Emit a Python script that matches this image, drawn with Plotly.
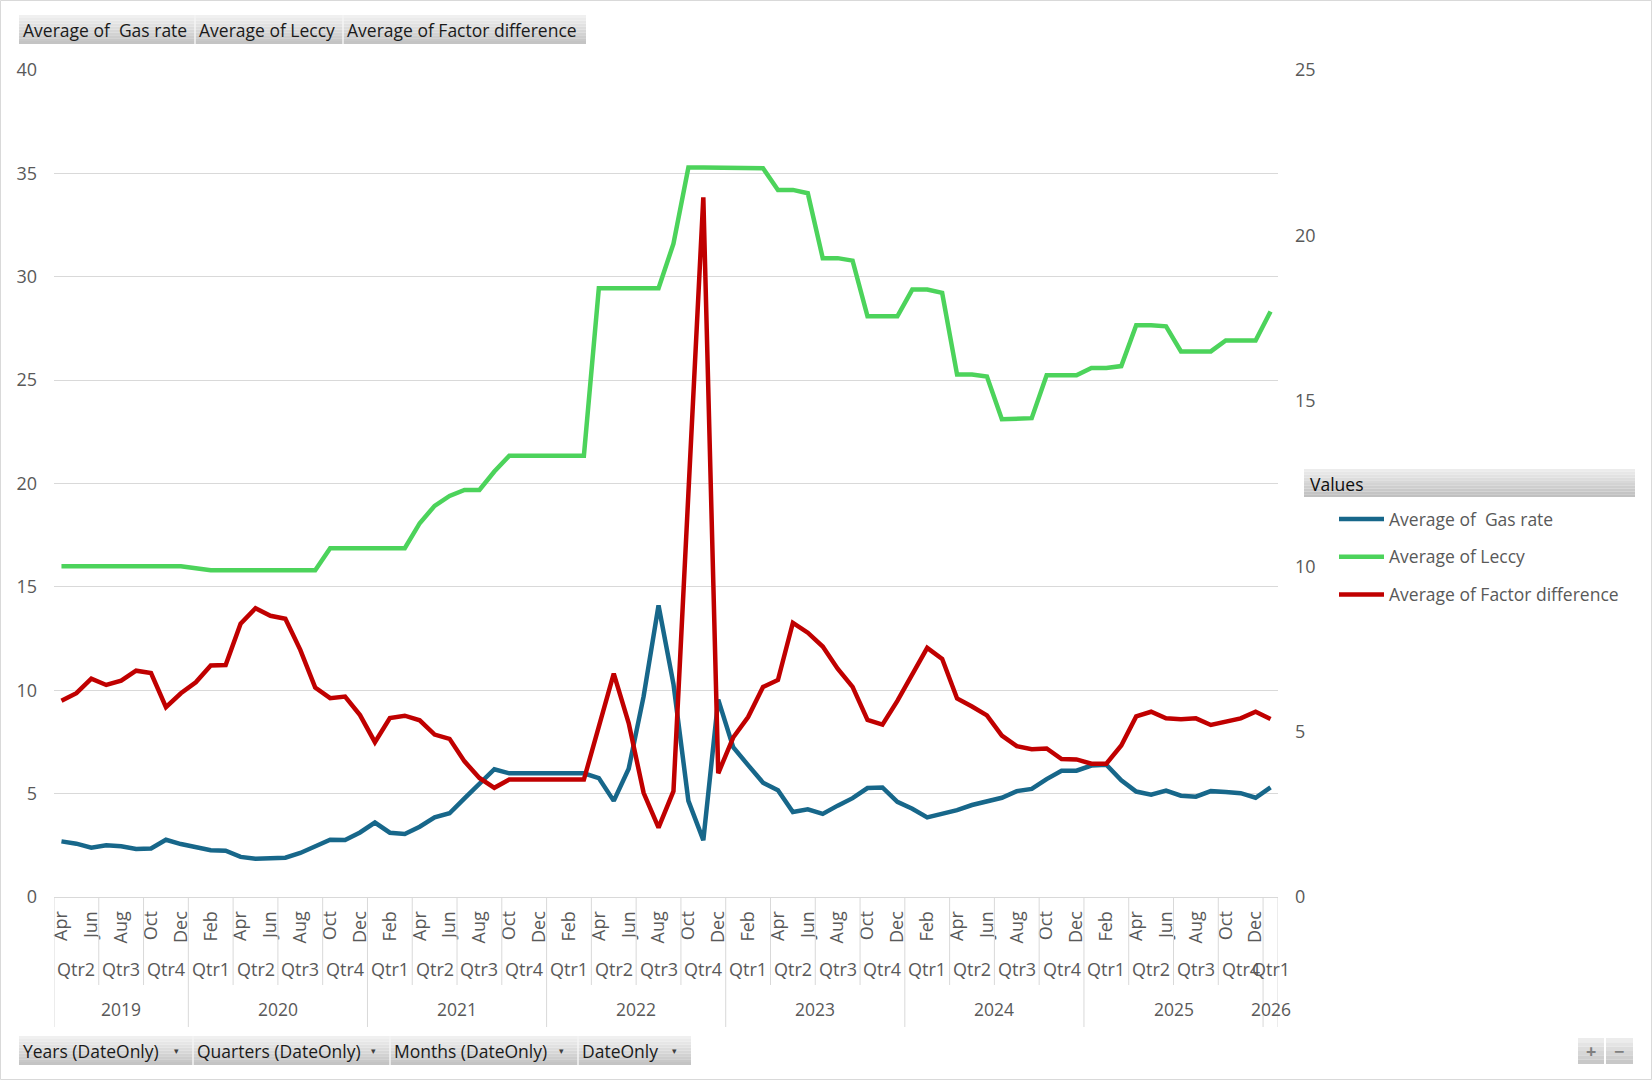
import plotly.graph_objects as go
import pandas as pd

# ---------------- data ----------------
dates = pd.date_range("2019-04-01", "2026-01-01", freq="MS")
month_labels = [d.strftime("%b") for d in dates]
quarter_labels = ["Qtr%d" % ((d.month - 1) // 3 + 1) for d in dates]
year_labels = [str(d.year) for d in dates]

gas = [2.69, 2.58, 2.38, 2.50, 2.45, 2.32, 2.35, 2.77, 2.56,
       2.42, 2.26, 2.24, 1.94, 1.85, 1.89, 1.90, 2.13, 2.48, 2.77, 2.76, 3.12,
       3.60, 3.11, 3.05, 3.40, 3.85, 4.05, 4.77, 5.50, 6.18, 5.98, 5.98, 5.98,
       5.98, 5.98, 5.98, 5.75, 4.65, 6.20, 9.70, 14.10, 10.30, 4.65, 2.75, 9.55,
       7.25, 6.38, 5.53, 5.16, 4.11, 4.24, 4.02, 4.42, 4.78, 5.27, 5.30, 4.60,
       4.27, 3.85, 4.00, 4.20, 4.45, 4.65, 4.80, 5.12, 5.23, 5.70, 6.11, 6.11,
       6.36, 6.40, 5.65, 5.10, 4.95, 5.15, 4.90, 4.85, 5.12, 5.08, 5.02, 4.80,
       5.30]

leccy = [16.0, 16.0, 16.0, 16.0, 16.0, 16.0, 16.0, 16.0, 16.0,
         15.9, 15.8, 15.8, 15.8, 15.8, 15.8, 15.8, 15.8, 15.8, 16.87, 16.87, 16.87,
         16.87, 16.87, 16.87, 18.08, 18.92, 19.40, 19.69, 19.69, 20.58, 21.34, 21.34, 21.34,
         21.34, 21.34, 21.34, 29.44, 29.44, 29.44, 29.44, 29.44, 31.60, 35.28, 35.28, 35.28,
         35.28, 35.28, 35.25, 34.20, 34.20, 34.04, 30.90, 30.90, 30.78, 28.09, 28.09, 28.09,
         29.38, 29.38, 29.22, 25.27, 25.27, 25.17, 23.11, 23.11, 23.16, 25.23, 25.23, 25.23,
         25.59, 25.59, 25.68, 27.65, 27.65, 27.60, 26.39, 26.39, 26.39, 26.92, 26.92, 26.92,
         28.32]

factor = [5.93, 6.16, 6.60, 6.41, 6.54, 6.84, 6.77, 5.74, 6.16,
          6.49, 7.00, 7.01, 8.26, 8.73, 8.50, 8.41, 7.47, 6.33, 6.01, 6.06, 5.50,
          4.68, 5.41, 5.48, 5.34, 4.91, 4.78, 4.10, 3.60, 3.30, 3.55, 3.55, 3.55,
          3.55, 3.55, 3.55, 5.15, 6.75, 5.26, 3.15, 2.10, 3.20, 12.20, 21.15, 3.74,
          4.82, 5.44, 6.35, 6.56, 8.29, 7.99, 7.57, 6.90, 6.35, 5.35, 5.21, 5.93,
          6.74, 7.53, 7.20, 6.00, 5.76, 5.49, 4.88, 4.56, 4.47, 4.49, 4.17, 4.16,
          4.03, 4.03, 4.58, 5.46, 5.60, 5.40, 5.37, 5.40, 5.20, 5.31, 5.40, 5.60,
          5.38]

series_names = ["Average of\u00a0 Gas rate", "Average of Leccy", "Average of Factor difference"]
series_colors = ["#17678A", "#4CD35B", "#C00000"]
left_ticks = [0, 5, 10, 15, 20, 25, 30, 35, 40]
right_ticks = [0, 5, 10, 15, 20, 25]
top_buttons = ["Average of\u00a0 Gas rate", "Average of Leccy", "Average of Factor difference"]
bottom_buttons = ["Years (DateOnly)", "Quarters (DateOnly)", "Months (DateOnly)", "DateOnly"]

# ---------------- layout geometry ----------------
W, H = 1652, 1080
L, R, T, B = 54, 374, 70, 183
PW = W - L - R
PH = H - T - B
FONT = "Open Sans"
GRID = "#D9D9D9"
TXT = "#595959"


def px2x(px):
    return (px - L) / PW


def py2y(py):
    return (H - B - py) / PH


x = list(range(len(dates)))

fig = go.Figure()
fig.add_trace(go.Scatter(x=x, y=gas, name=series_names[0], mode="lines",
                         line=dict(color=series_colors[0], width=4.5), legendgroup="a"))
fig.add_trace(go.Scatter(x=x, y=leccy, name=series_names[1], mode="lines",
                         line=dict(color=series_colors[1], width=4.5), legendgroup="b"))
fig.add_trace(go.Scatter(x=x, y=factor, name=series_names[2], mode="lines", yaxis="y2",
                         line=dict(color=series_colors[2], width=4.5), legendgroup="c"))

tickvals = [i for i, d in enumerate(dates) if d.month % 2 == 0]
ticktext = [month_labels[i] for i in tickvals]

shapes = []
annotations = []


def grad_rect(x0, y0, x1, y1, top=(240, 240, 240), bot=(196, 196, 196), n=10):
    for k in range(n):
        t = k / (n - 1)
        c = tuple(int(top[j] + (bot[j] - top[j]) * t) for j in range(3))
        ya = y0 + (y1 - y0) * k / n
        yb = y0 + (y1 - y0) * (k + 1) / n
        shapes.append(dict(type="rect", xref="paper", yref="paper",
                           x0=px2x(x0), x1=px2x(x1), y0=py2y(ya), y1=py2y(yb),
                           fillcolor="rgb(%d,%d,%d)" % c, line=dict(width=0), layer="above"))


# outer chart border
shapes.append(dict(type="rect", xref="paper", yref="paper",
                   x0=px2x(0.5), x1=px2x(W - 0.5), y0=py2y(0.5), y1=py2y(H - 0.5),
                   line=dict(color=GRID, width=1)))

# multi-level axis separators
n = len(dates)
q_bounds = [-0.5] + [k - 0.5 for k in range(1, n) if quarter_labels[k] != quarter_labels[k - 1]] + [n - 0.5]
y_bounds = [-0.5] + [k - 0.5 for k in range(1, n) if year_labels[k] != year_labels[k - 1]] + [n - 0.5]
for b in q_bounds:
    if b not in y_bounds:
        shapes.append(dict(type="line", xref="x", yref="paper", x0=b, x1=b,
                           y0=py2y(H - B), y1=py2y(985), line=dict(color=GRID, width=1)))
for b in y_bounds:
    shapes.append(dict(type="line", xref="x", yref="paper", x0=b, x1=b,
                       y0=py2y(H - B), y1=py2y(1027), line=dict(color=GRID, width=1)))

# quarter & year labels
start = 0
for k in range(1, n + 1):
    if k == n or quarter_labels[k] != quarter_labels[k - 1]:
        annotations.append(dict(x=(start + k - 1) / 2, y=py2y(969), xref="x", yref="paper",
                                xanchor="center", yanchor="middle",
                                text=quarter_labels[start], showarrow=False,
                                font=dict(family=FONT, size=18, color=TXT)))
        start = k
start = 0
for k in range(1, n + 1):
    if k == n or year_labels[k] != year_labels[k - 1]:
        annotations.append(dict(x=(start + k - 1) / 2, y=py2y(1009), xref="x", yref="paper",
                                xanchor="center", yanchor="middle",
                                text=year_labels[start], showarrow=False,
                                font=dict(family=FONT, size=17.5, color=TXT)))
        start = k

# top field buttons
grad_rect(19, 15, 586, 44)
top_edges = [19, 195, 343, 586]
for i, lab in enumerate(top_buttons):
    if i > 0:
        shapes.append(dict(type="line", xref="paper", yref="paper",
                           x0=px2x(top_edges[i]), x1=px2x(top_edges[i]), y0=py2y(15), y1=py2y(44),
                           line=dict(color="#F4F4F4", width=1.5), layer="above"))
    annotations.append(dict(x=px2x(top_edges[i] + 2), y=py2y(30), xref="paper", yref="paper",
                            xanchor="left", yanchor="middle", text=lab, showarrow=False,
                            font=dict(family=FONT, size=17.5, color="#1A1A1A")))

# bottom field buttons
grad_rect(19, 1036, 691, 1065)
bot_edges = [19, 193, 390, 578, 691]
for i, lab in enumerate(bottom_buttons):
    if i > 0:
        shapes.append(dict(type="line", xref="paper", yref="paper",
                           x0=px2x(bot_edges[i]), x1=px2x(bot_edges[i]), y0=py2y(1036), y1=py2y(1065),
                           line=dict(color="#F4F4F4", width=1.5), layer="above"))
    annotations.append(dict(x=px2x(bot_edges[i] + 2), y=py2y(1051), xref="paper", yref="paper",
                            xanchor="left", yanchor="middle", text=lab, showarrow=False,
                            font=dict(family=FONT, size=17.5, color="#1A1A1A")))
    annotations.append(dict(x=px2x(bot_edges[i + 1] - 17), y=py2y(1050), xref="paper", yref="paper",
                            xanchor="center", yanchor="middle", text="▾", showarrow=False,
                            font=dict(family=FONT, size=9, color="#404040")))

# +/- buttons
for x0, x1, s in [(1578, 1604, "+"), (1606, 1633, "\u2212")]:
    grad_rect(x0, 1038, x1, 1064, top=(236, 236, 236), bot=(200, 200, 200), n=6)
    annotations.append(dict(x=px2x((x0 + x1) / 2), y=py2y(1051), xref="paper", yref="paper",
                            xanchor="center", yanchor="middle", text="<b>%s</b>" % s, showarrow=False,
                            font=dict(family=FONT, size=18, color="#7F7F7F")))

# legend header "Values"
grad_rect(1304, 469, 1635, 497, top=(236, 236, 236), bot=(192, 192, 192))
annotations.append(dict(x=px2x(1308), y=py2y(484), xref="paper", yref="paper",
                        xanchor="left", yanchor="middle", text="Values", showarrow=False,
                        font=dict(family=FONT, size=17.5, color="#0D0D0D")))

fig.update_layout(
    width=W, height=H,
    margin=dict(l=L, r=R, t=T, b=B, pad=0),
    paper_bgcolor="white", plot_bgcolor="white",
    font=dict(family=FONT, size=18, color=TXT),
    showlegend=True,
    legend=dict(x=px2x(1334), y=py2y(501), xanchor="left", yanchor="top",
                font=dict(family=FONT, size=17.5, color=TXT),
                bgcolor="rgba(0,0,0,0)", itemwidth=45, tracegroupgap=12),
    xaxis=dict(range=[-0.5, n - 0.5], tickmode="array", tickvals=tickvals, ticktext=ticktext,
               tickangle=-90, showgrid=False, zeroline=False, showline=True,
               linecolor=GRID, linewidth=1, ticks="", ticklabelstandoff=6,
               tickfont=dict(family=FONT, size=18, color=TXT), fixedrange=True),
    yaxis=dict(range=[0, 40], tickmode="array", tickvals=left_ticks, showgrid=True,
               gridcolor=GRID, gridwidth=1, zeroline=False, showline=False, ticks="",
               ticklabelstandoff=16, tickfont=dict(family=FONT, size=18, color=TXT)),
    yaxis2=dict(range=[0, 25], tickmode="array", tickvals=right_ticks, overlaying="y",
                side="right", showgrid=False, zeroline=False, showline=False, ticks="",
                ticklabelstandoff=16, tickfont=dict(family=FONT, size=18, color=TXT)),
    shapes=shapes,
    annotations=annotations,
    hovermode=False,
)

fig.write_html("out.html", config={"displayModeBar": False},
               post_script="document.body.style.margin='0px';document.body.style.overflow='hidden';")
